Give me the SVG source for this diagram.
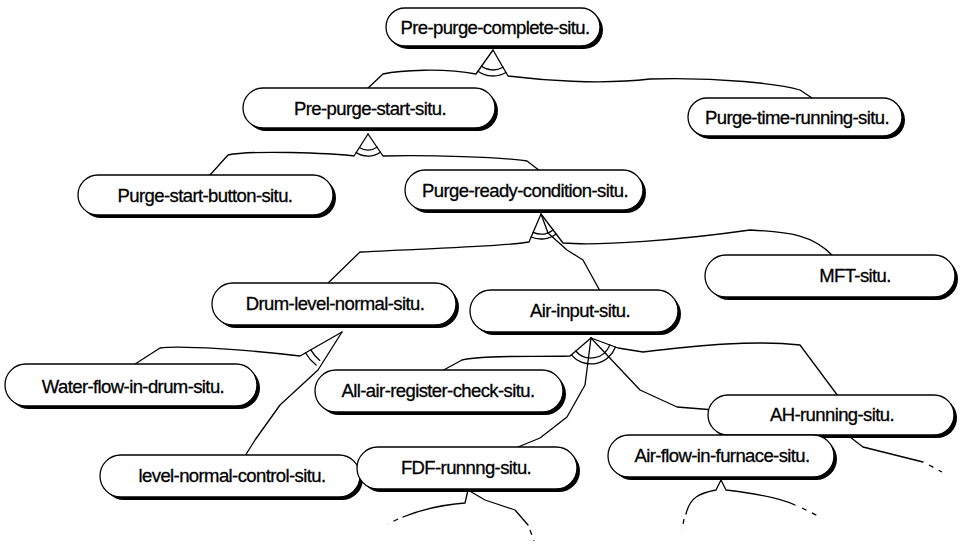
<svg xmlns="http://www.w3.org/2000/svg" width="961" height="547" viewBox="0 0 961 547">
  <style>
    .shadow { fill: #000; }
    .pill { fill: #fff; stroke: #000; stroke-width: 1.3; }
    .label { font-family: "Liberation Sans", Arial, sans-serif; font-size: 18.5px; letter-spacing: -0.6px; text-anchor: middle; fill: #000; stroke: #000; stroke-width: 0.3; }
    .wire { fill: none; stroke: #000; stroke-width: 1.3; stroke-linejoin: round; stroke-linecap: round; }
    .tail { fill: none; stroke: #000; stroke-width: 1.3; stroke-dasharray: 5 6; }
  </style>

  <rect width="961" height="547" fill="#fff"/>

  <!-- connectors and AND arcs -->
  <g id="connectors">
    <!-- Pre-purge-complete -->
    <path class="wire" d="M493,50 L476,74 C445,68 400,70 383,74 L368,88"/>
    <path class="wire" d="M493,50 L508,76 C540,80 600,85 650,79 C720,77 780,84 800,90 L815,100"/>
    <path class="wire" d="M481.4,66.3 A20,20 0 0,0 503,67.3"/>
    <path class="wire" d="M478,71.2 A26,26 0 0,0 506,72.5"/>

    <!-- Pre-purge-start -->
    <path class="wire" d="M368,134 L354,156 C330,153 250,150 228,155 L210,175"/>
    <path class="wire" d="M368,134 L383,156 C430,155 500,157 527,161 L540,171"/>
    <path class="wire" d="M359.4,147.5 A16,16 0 0,0 377,147.2"/>
    <path class="wire" d="M356.2,152.6 A22,22 0 0,0 380.4,152.2"/>

    <!-- Purge-ready-condition -->
    <path class="wire" d="M541,214 L529,242 C500,247 433,248 360,252 L327,284"/>
    <path class="wire" d="M541,214 L548,233 L567,250 L583,260 L600,291"/>
    <path class="wire" d="M541,214 L563,243 C600,246 680,240 750,230 C790,232 813,235 833,256"/>
    <path class="wire" d="M533.1,232.4 A20,20 0 0,0 553.1,229.9"/>
    <path class="wire" d="M531.2,237 A25,25 0 0,0 556.1,233.9"/>

    <!-- Drum-level-normal -->
    <path class="wire" d="M342,332 L300,356 C250,350 180,345 160,348 L132,366"/>
    <path class="wire" d="M342,332 L318,370 L280,405 L255,440 L245,456"/>
    <path class="wire" d="M310.8,349.9 A36,36 0 0,0 319.8,360.4"/>
    <path class="wire" d="M305.5,352.8 A42,42 0 0,0 316.1,365.1"/>

    <!-- Air-input -->
    <path class="wire" d="M591,338 L570,356 C530,357 480,355 462,360 L440,372"/>
    <path class="wire" d="M591,338 L585,385 L567,417 L540,438 L513,449"/>
    <path class="wire" d="M591,338 L640,390 L677,407 L740,412 L767,436"/>
    <path class="wire" d="M591,338 L618,348 L643,352 C700,345 755,340 800,345 L838,396"/>
    <path class="wire" d="M575.8,351 A20,20 0 0,0 609.8,344.9"/>
    <path class="wire" d="M571.3,354.9 A26,26 0 0,0 615.4,347"/>

    <!-- AH-running (continues off the page) -->
    <path class="wire" d="M850,437 L863,447 L923,462"/>
    <path class="tail" d="M929,465 L942,472"/>

    <!-- FDF-running (continues off the page) -->
    <path class="wire" d="M468,490 L465,503 C440,505 420,510 403,517"/>
    <path class="tail" d="M398,519 L388,524"/>
    <path class="wire" d="M468,490 L485,500 L515,510 L528,525"/>
    <path class="tail" d="M530,530 L534,541"/>

    <!-- Air-flow-in-furnace (continues off the page) -->
    <path class="wire" d="M721,480 L716,490 C700,493 690,497 686,514"/>
    <path class="tail" d="M684,519 L682,530"/>
    <path class="wire" d="M721,480 L726,490 C760,494 780,498 795,505"/>
    <path class="tail" d="M802,508 L820,517"/>
  </g>

  <g id="pre-purge-complete">
    <rect class="shadow" x="389" y="11" width="214" height="38" rx="19"/>
    <rect class="pill" x="386" y="8" width="214" height="38" rx="19"/>
    <text class="label" x="495" y="34">Pre-purge-complete-situ.</text>
  </g>
  <g id="pre-purge-start">
    <rect class="shadow" x="246" y="91" width="252" height="40" rx="20"/>
    <rect class="pill" x="243" y="88" width="252" height="40" rx="20"/>
    <text class="label" x="370" y="115">Pre-purge-start-situ.</text>
  </g>
  <g id="purge-time-running">
    <rect class="shadow" x="691" y="101" width="214" height="38" rx="19"/>
    <rect class="pill" x="688" y="98" width="214" height="38" rx="19"/>
    <text class="label" x="797" y="124">Purge-time-running-situ.</text>
  </g>
  <g id="purge-start-button">
    <rect class="shadow" x="81" y="178" width="255" height="40" rx="20"/>
    <rect class="pill" x="78" y="175" width="255" height="40" rx="20"/>
    <text class="label" x="205" y="202">Purge-start-button-situ.</text>
  </g>
  <g id="purge-ready-condition">
    <rect class="shadow" x="408" y="173" width="238" height="40" rx="20"/>
    <rect class="pill" x="405" y="170" width="238" height="40" rx="20"/>
    <text class="label" x="525" y="197">Purge-ready-condition-situ.</text>
  </g>
  <g id="drum-level-normal">
    <rect class="shadow" x="215" y="286" width="244" height="42" rx="21"/>
    <rect class="pill" x="212" y="283" width="244" height="42" rx="21"/>
    <text class="label" x="335" y="310">Drum-level-normal-situ.</text>
  </g>
  <g id="air-input">
    <rect class="shadow" x="473" y="293" width="208" height="42" rx="21"/>
    <rect class="pill" x="470" y="290" width="208" height="42" rx="21"/>
    <text class="label" x="580" y="317">Air-input-situ.</text>
  </g>
  <g id="mft">
    <rect class="shadow" x="708" y="258" width="250" height="42" rx="21"/>
    <rect class="pill" x="705" y="255" width="250" height="42" rx="21"/>
    <text class="label" x="855" y="282">MFT-situ.</text>
  </g>
  <g id="water-flow-in-drum">
    <rect class="shadow" x="8" y="367" width="252" height="42" rx="21"/>
    <rect class="pill" x="5" y="364" width="252" height="42" rx="21"/>
    <text class="label" x="133" y="393">Water-flow-in-drum-situ.</text>
  </g>
  <g id="all-air-register-check">
    <rect class="shadow" x="318" y="373" width="248" height="42" rx="21"/>
    <rect class="pill" x="315" y="370" width="248" height="42" rx="21"/>
    <text class="label" x="438" y="397">All-air-register-check-situ.</text>
  </g>
  <g id="ah-running">
    <rect class="shadow" x="711" y="398" width="246" height="40" rx="20"/>
    <rect class="pill" x="708" y="395" width="246" height="40" rx="20"/>
    <text class="label" x="832" y="421">AH-running-situ.</text>
  </g>
  <g id="level-normal-control">
    <rect class="shadow" x="103" y="458" width="260" height="42" rx="21"/>
    <rect class="pill" x="100" y="455" width="260" height="42" rx="21"/>
    <text class="label" x="232" y="482">level-normal-control-situ.</text>
  </g>
  <g id="fdf-running">
    <rect class="shadow" x="360" y="450" width="220" height="42" rx="21"/>
    <rect class="pill" x="357" y="447" width="220" height="42" rx="21"/>
    <text class="label" x="466" y="474">FDF-runnng-situ.</text>
  </g>
  <g id="air-flow-in-furnace">
    <rect class="shadow" x="611" y="438" width="226" height="42" rx="21"/>
    <rect class="pill" x="608" y="435" width="226" height="42" rx="21"/>
    <text class="label" x="722" y="462">Air-flow-in-furnace-situ.</text>
  </g>
</svg>
